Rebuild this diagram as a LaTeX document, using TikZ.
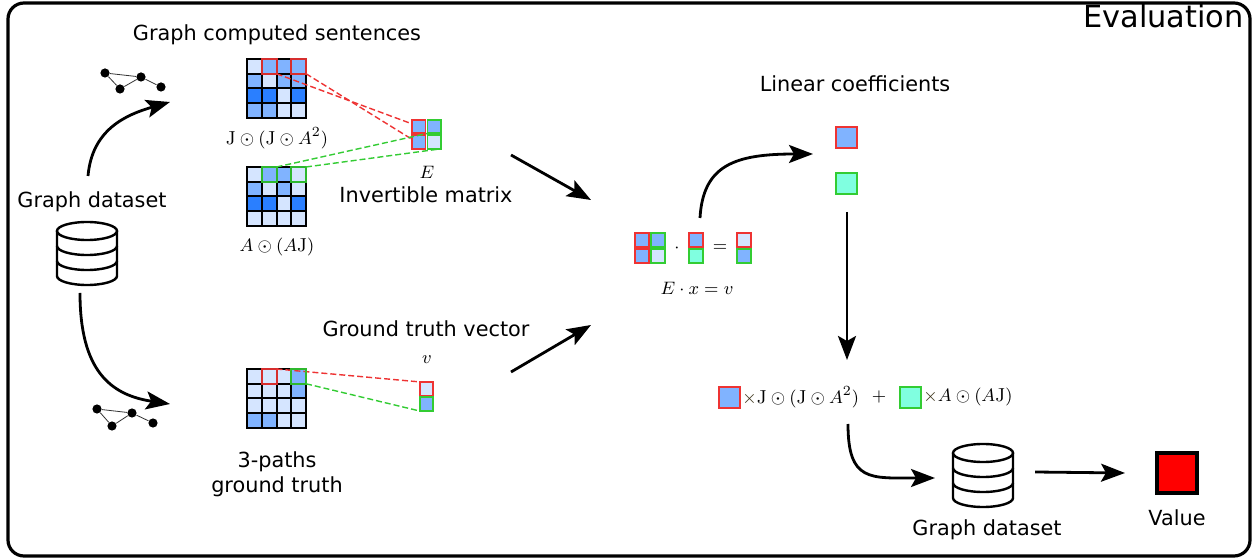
\documentclass[tikz,border=0pt]{standalone}
\usepackage{fontspec}
\newfontfamily\dv{DejaVu Sans}
\usetikzlibrary{arrows.meta,calc}
\definecolor{cL}{HTML}{D5E5FF}
\definecolor{cM}{HTML}{80B3FF}
\definecolor{cD}{HTML}{2A7FFF}
\definecolor{cC}{HTML}{80FFE0}
\definecolor{hr}{HTML}{EE3333}
\definecolor{hg}{HTML}{33CC33}
\definecolor{tx}{HTML}{3A3218}
\newcommand\mymat[4]{%
  \foreach \rr [count=\i] in {#4} {
    \foreach \cc [count=\j] in \rr {
      \node[cell, fill=c\cc] (#1-\i-\j) at ({#2+14.75*(\j-0.5)},{#3+14.75*(\i-0.5)}) {};
    }
  }%
}
\begin{document}
\begin{tikzpicture}[x=0.5pt,y=-0.5pt,
  cell/.style={draw=black, line width=1pt, minimum size=7.375pt, inner sep=0pt, outer sep=0pt},
  ecell/.style={line width=0.9pt, minimum size=6.8pt, inner sep=0pt, outer sep=0pt},
  vcell/.style={line width=0.9pt, minimum size=7.1pt, inner sep=0pt, outer sep=0pt},
  sq/.style={line width=1pt, minimum size=10.5pt, inner sep=0pt, outer sep=0pt},
  hlr/.style={draw=hr, line width=1pt, draw opacity=0.9},
  hlg/.style={draw=hg, line width=1pt, draw opacity=0.9},
  dr/.style={hr, line width=0.7pt, dash pattern=on 3pt off 1.5pt},
  dg/.style={hg, line width=0.7pt, dash pattern=on 3pt off 1.5pt},
  lbl/.style={font=\dv\fontsize{10.4}{13}\selectfont, anchor=base, inner sep=0pt},
  mth/.style={font=\fontsize{9.4}{11}\selectfont, inner sep=0pt},
  arr/.style={line width=1.4pt, -{Stealth[length=12pt,width=9pt,inset=2.5pt]}},
  gdot/.style={circle, fill=black, inner sep=0pt, minimum size=4.6pt},
  gedge/.style={line width=0.4pt, draw=black!80},
  database/.pic={
    \draw[line width=1.2pt] (0,9) ellipse [x radius=15pt, y radius=4.5pt];
    \draw[line width=1.2pt] (-30,9) -- (-30,54) arc[start angle=180, end angle=360, x radius=15pt, y radius=4.5pt] -- (30,9);
    \draw[line width=1.2pt] (-30,24) arc[start angle=180, end angle=360, x radius=15pt, y radius=4.5pt];
    \draw[line width=1.2pt] (-30,39) arc[start angle=180, end angle=360, x radius=15pt, y radius=4.5pt];
  }
]
\useasboundingbox (0,0) rectangle (1257,560);
\fill[white] (0,0) rectangle (1257,560);
% frame
\draw[line width=1.6pt, rounded corners=8pt] (8,3) rectangle (1250,556);
\node[font=\dv\fontsize{15.2}{18}\selectfont, anchor=base east, inner sep=0pt] (eval) at (1244,28) {Evaluation};

% left dataset
\node[lbl] (gd1) at (92,208) {Graph dataset};
\pic at (87,222) {database};

% graphs
\node[gdot] (g1) at (105,73) {};
\node[gdot] (g2) at (120,89) {};
\node[gdot] (g3) at (141,77) {};
\node[gdot] (g4) at (161,87) {};
\draw[gedge] (g1) -- (g3) (g1) -- (g2) (g2) -- (g3) (g3) -- (g4);
\node[gdot] (h1) at (97,409) {};
\node[gdot] (h2) at (112,426) {};
\node[gdot] (h3) at (132,413) {};
\node[gdot] (h4) at (153,423) {};
\draw[gedge] (h1) -- (h3) (h1) -- (h2) (h2) -- (h3) (h3) -- (h4);

% arrows left
\coordinate (a1s) at (88,176);
\coordinate (a1e) at (170,102);
\draw[arr] (a1s) .. controls (92,130) and (125,115) .. (a1e);
\coordinate (a2s) at (80,293);
\coordinate (a2e) at (170,404);
\draw[arr] (a2s) .. controls (80,370) and (110,395) .. (a2e);

% matrices
\node[lbl] (gcs) at (277,41) {Graph computed sentences};
\mymat{A}{247}{59}{{L,M,M,M},{M,L,M,M},{D,D,L,D},{M,M,L,L}}
\mymat{B}{247}{167}{{L,M,M,L},{M,L,M,L},{D,D,L,D},{L,L,L,L}}
\mymat{C}{247}{369}{{L,L,L,M},{L,L,L,M},{L,L,L,L},{M,M,L,L}}
\node[mth] (lA) at (277,138) {$\mathrm{J}\odot(\mathrm{J}\odot A^2)$};
\node[mth] (lB) at (277,247) {$A\odot(A\mathrm{J})$};

% invertible matrix E
\node[ecell, draw=hr, fill=cM] (E-1-1) at (418.6,126.6) {};
\node[ecell, draw=hg, fill=cM] (E-1-2) at (434.2,126.6) {};
\node[ecell, draw=hr, fill=cM] (E-2-1) at (418.6,142.0) {};
\node[ecell, draw=hg, fill=cL] (E-2-2) at (434.2,142.0) {};
\node[mth] (lE) at (427,172) {$E$};
\node[lbl] (inv) at (426,203) {Invertible matrix};

% ground truth vector v
\node[ecell, draw=hr, fill=cL] (v-1) at (426.5,388.7) {};
\node[ecell, draw=hg, fill=cM] (v-2) at (426.5,404.2) {};
\node[mth] (lv) at (427,360) {$v$};
\node[lbl] (gtv) at (426,337) {Ground truth vector};
\node[lbl] (gt3) at (277,467) {3-paths};
\node[lbl] (gt4) at (277,493) {ground truth};

% dashed correspondences
\draw[dr] (A-1-2.south east) -- ([yshift=-2pt]E-1-1.north west);
\draw[dr] (A-1-4.south east) -- ([yshift=-2pt]E-2-1.north west);
\draw[dg] (B-1-2.north east) -- (E-1-2.south west);
\draw[dg] (B-1-4.north east) -- (E-2-2.south east);
\draw[dr] (C-1-2.north east) -- (v-1.north west);
\draw[dg] (C-1-4.south east) -- (v-2.south west);

% highlights
\foreach \m in {A-1-2,A-1-4,C-1-2}{\draw[hlr] (\m.south west) rectangle (\m.north east);}
\foreach \m in {B-1-2,B-1-4,C-1-4}{\draw[hlg] (\m.south west) rectangle (\m.north east);}

% arrows to equation
\coordinate (b1s) at (511,155);
\coordinate (b1e) at (591,200);
\draw[arr] (b1s) -- (b1e);
\coordinate (b2s) at (511,372);
\coordinate (b2e) at (591,325);
\draw[arr] (b2s) -- (b2e);

% equation E x = v
\node[vcell, draw=hr, fill=cM] (Q-1-1) at (642,240) {};
\node[vcell, draw=hg, fill=cM] (Q-1-2) at (658,240) {};
\node[vcell, draw=hr, fill=cM] (Q-2-1) at (642,256) {};
\node[vcell, draw=hg, fill=cL] (Q-2-2) at (658,256) {};
\node[mth] (qdot) at (677,248) {$\cdot$};
\node[vcell, draw=hr, fill=cM] (X-1) at (696,240) {};
\node[vcell, draw=hg, fill=cC] (X-2) at (696,256) {};
\node[mth] (qeq) at (720,248) {$=$};
\node[vcell, draw=hr, fill=cL] (W-1) at (744,240) {};
\node[vcell, draw=hg, fill=cM] (W-2) at (744,256) {};
\node[mth] (qlab) at (697,288) {$E\cdot x=v$};

% linear coefficients
\node[lbl] (lc) at (855,92) {Linear coefficients};
\node[sq, draw=hr, fill=cM] (k1) at (846.5,137.5) {};
\node[sq, draw=hg, fill=cC] (k2) at (846.5,183.5) {};
\coordinate (c1s) at (700,218);
\coordinate (c1e) at (813,154);
\draw[arr] (c1s) .. controls (703,165) and (735,154) .. (c1e);
\coordinate (c2s) at (847,212);
\coordinate (c2e) at (847,360);
\draw[arr] (c2s) -- (c2e);

% formula
\node[sq, draw=hr, fill=cM] (f1) at (729,397.5) {};
\node[mth, anchor=west, text=tx] (f1t) at (742,397) {$\times\textcolor{black}{\mathrm{J}\odot(\mathrm{J}\odot A^2)}$};
\node[mth] (fplus) at (879,397) {$+$};
\node[sq, draw=hg, fill=cC] (f2) at (910.5,397.5) {};
\node[mth, anchor=west, text=tx] (f2t) at (923,397) {$\times\textcolor{black}{A\odot(A\mathrm{J})}$};

% to dataset and value
\coordinate (d1s) at (848,424);
\coordinate (d1e) at (935,478);
\draw[arr] (d1s) .. controls (848,482) and (870,478) .. (d1e);
\pic at (983,444) {database};
\node[lbl] (gd2) at (987,535) {Graph dataset};
\coordinate (e1s) at (1035,472);
\node[draw=black, line width=2pt, fill=red, minimum size=20pt, inner sep=0pt] (val) at (1177,473) {};
\draw[arr] (e1s) -- ([xshift=-15pt]val.west);
\node[lbl] (vl) at (1177,525) {Value};
\end{tikzpicture}
\end{document}
